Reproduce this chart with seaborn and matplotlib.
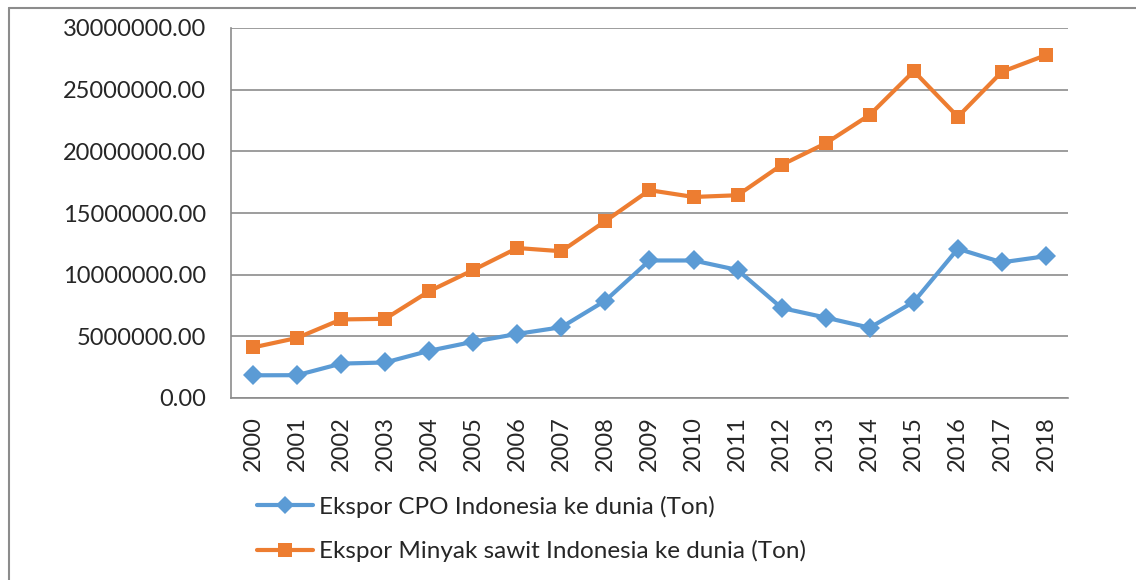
import matplotlib.pyplot as plt
import matplotlib.ticker as mticker
import pandas as pd
import seaborn as sns
from matplotlib.lines import Line2D

YEARS = [str(y) for y in range(2000, 2019)]
CPO = [1.84e6, 1.85e6, 2.79e6, 2.88e6, 3.83e6, 4.56e6, 5.2e6, 5.74e6, 7.9e6, 11.15e6,
       11.15e6, 10.38e6, 7.3e6, 6.52e6, 5.7e6, 7.8e6, 12.1e6, 11.0e6, 11.5e6]
MINYAK = [4.1e6, 4.87e6, 6.37e6, 6.42e6, 8.66e6, 10.38e6, 12.16e6, 11.9e6, 14.35e6, 16.85e6,
          16.3e6, 16.44e6, 18.9e6, 20.65e6, 22.96e6, 26.5e6, 22.8e6, 26.45e6, 27.8e6]
LABEL_CPO = "Ekspor CPO Indonesia ke dunia (Ton)"
LABEL_MINYAK = "Ekspor Minyak sawit Indonesia ke dunia (Ton)"

BLUE = "#5B9BD5"
ORANGE = "#ED7D31"
GRID = "#8C8C8C"

sns.set_style("white")
plt.rcParams["font.family"] = ["Lato", "DejaVu Sans"]

df = pd.DataFrame({"year": YEARS * 2,
                   "value": CPO + MINYAK,
                   "series": [LABEL_CPO] * len(YEARS) + [LABEL_MINYAK] * len(YEARS)})

fig = plt.figure(figsize=(11.36, 5.8), dpi=100)
ax = fig.add_axes([231 / 1136, 1 - 398 / 580, (1068 - 231) / 1136, (398 - 28) / 580])

sns.lineplot(data=df, x="year", y="value", hue="series", style="series",
             palette=[BLUE, ORANGE], markers=["D", "s"], dashes=False,
             markersize=10, markeredgewidth=0, linewidth=3, ax=ax, sort=False)

ax.set_xlim(-0.5, len(YEARS) - 0.5)
ax.set_ylim(0, 30000000)
ax.yaxis.set_major_locator(mticker.MultipleLocator(5000000))
ax.yaxis.set_major_formatter(mticker.FuncFormatter(lambda v, _: f"{v:.2f}"))
ax.grid(axis="y", color=GRID, linewidth=1.2)
ax.set_axisbelow(True)

# Excel-style category ticks between labels
ax.set_xticks(range(len(YEARS)))
ax.set_xticklabels(YEARS, rotation=90)
ax.set_xticks([i - 0.5 for i in range(len(YEARS) + 1)], minor=True)
ax.tick_params(axis="x", which="major", length=0, pad=13, labelsize=17)
ax.tick_params(axis="x", which="minor", length=8, width=1.2, color=GRID, direction="out")
ax.tick_params(axis="y", length=8, width=1.2, color=GRID, direction="out", labelsize=17, pad=10)
ax.set_xlabel("")
ax.set_ylabel("")

for side in ["top", "right"]:
    ax.spines[side].set_visible(False)
for side in ["left", "bottom"]:
    ax.spines[side].set_color(GRID)
    ax.spines[side].set_linewidth(1.2)

ax.legend_.remove()
handles = [Line2D([], [], color=BLUE, marker="D", markersize=9, markeredgewidth=0, linewidth=3),
           Line2D([], [], color=ORANGE, marker="s", markersize=10, markeredgewidth=0, linewidth=3)]
fig.legend(handles, [LABEL_CPO, LABEL_MINYAK], loc="upper left",
           bbox_to_anchor=(235 / 1136, 1 - 474 / 580), frameon=False, fontsize=17.5,
           handlelength=2.3, handletextpad=0.25, labelspacing=0.92)

# chart frame (left and top edges visible)
fig.add_artist(Line2D([8.5 / 1136, 8.5 / 1136], [0, 1 - 7.5 / 580], color="#8C8C8C", linewidth=1.5))
fig.add_artist(Line2D([8.5 / 1136, 1], [1 - 7.5 / 580, 1 - 7.5 / 580], color="#8C8C8C", linewidth=1.5))

fig.savefig("out.png", dpi=100)
